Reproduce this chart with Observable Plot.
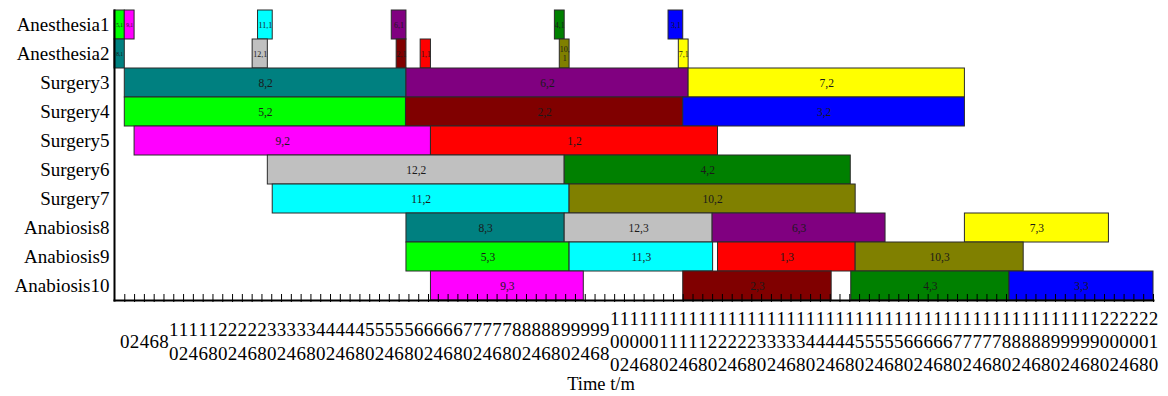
<!DOCTYPE html>
<html>
<head>
<meta charset="utf-8">
<script src="https://cdn.jsdelivr.net/npm/d3@7"></script>
<script src="https://cdn.jsdelivr.net/npm/@observablehq/plot@0.6"></script>
<style>
  html, body { margin: 0; padding: 0; background: #fff; }
</style>
</head>
<body>
<div id="chart"></div>
<script>
// Machines (rows, top to bottom)
const machines = ["Anesthesia1", "Anesthesia2", "Surgery3", "Surgery4", "Surgery5",
                  "Surgery6", "Surgery7", "Anabiosis8", "Anabiosis9", "Anabiosis10"];

// Operations: job, stage, machine index, start, end (time in minutes)
const opJob     = [5, 9, 11, 6, 4, 3,   8, 12, 2, 1, 10, 7,   8, 6, 7,   5, 2, 3,   9, 1,   12, 4,   11, 10,   8, 12, 6, 7,   5, 11, 1, 10,   9, 2, 4, 3];
const opStage   = [1, 1, 1, 1, 1, 1,   1, 1, 1, 1, 1, 1,   2, 2, 2,   2, 2, 2,   2, 2,   2, 2,   2, 2,   3, 3, 3, 3,   3, 3, 3, 3,   3, 3, 3, 3];
const opMachine = [0, 0, 0, 0, 0, 0,   1, 1, 1, 1, 1, 1,   2, 2, 2,   3, 3, 3,   4, 4,   5, 5,   6, 6,   7, 7, 7, 7,   8, 8, 8, 8,   9, 9, 9, 9];
const opStart   = [-2.1, 0, 27.2, 54.5, 87.8, 111,   -2.1, 26.1, 55.5, 60.4, 88.8, 113.1,
                   0, 57.5, 115.1,   0, 57.4, 114,   2, 62.5,   29.2, 89.8,   30.2, 90.8,
                   57.5, 89.8, 120, 171.5,   57.5, 90.8, 121.1, 149.2,   62.5, 114, 148.3, 180.6];
const opEnd     = [0, 2, 30.2, 57.5, 89.8, 114,   0, 29.2, 57.5, 62.5, 90.8, 115.1,
                   57.5, 115.1, 171.5,   57.4, 114, 171.5,   62.5, 121.1,   89.8, 148.2,   90.8, 149.2,
                   89.8, 120, 155.3, 200.9,   90.8, 120.1, 149.2, 183.5,   93.7, 144.3, 180.6, 210];

// Job colours (job 1..12)
const jobColors = ["#ff0000", "#800000", "#0000ff", "#008000", "#00ff00", "#800080",
                   "#ffff00", "#008080", "#ff00ff", "#808000", "#00ffff", "#c0c0c0"];

// X tick values
const xTicks = d3.range(0, 211, 2);
const xLabel = "Time t/m";

const ops = opJob.map((j, i) => ({
  job: j,
  stage: opStage[i],
  machine: machines[opMachine[i]],
  start: opStart[i],
  end: opEnd[i],
  color: jobColors[j - 1]
}));

function labelText(d) {
  const s = `${d.job},${d.stage}`;
  if (d.stage === 1 && s.length > 3 && d.end - d.start < 2.5) return `${d.job},\n${d.stage}`;
  return s;
}
function labelSize(d) {
  if (d.stage !== 1) return 11.5;
  return d.start < 3 ? 5.5 : 8;
}

const serif = "'Liberation Serif', 'Times New Roman', serif";

const plot = Plot.plot({
  width: 1168,
  height: 396,
  marginTop: 10,
  marginBottom: 96,
  marginLeft: 114,
  marginRight: 15,
  style: { fontFamily: serif, fontSize: "19px", background: "#fff", color: "#000" },
  x: { domain: [-2.1, 210], axis: null },
  y: { domain: machines, padding: 0, axis: null },
  color: { type: "identity" },
  marks: [
    Plot.barX(ops, {
      x1: "start", x2: "end", y: "machine",
      fill: "color", stroke: "#2a2a2a", strokeWidth: 1, inset: 0
    }),
    ...[5.5, 8, 11.5].map(fs => Plot.text(ops.filter(d => labelSize(d) === fs), {
      x: d => (d.start + d.end) / 2, y: "machine",
      text: labelText, fontSize: fs, fill: "#1a1a1a", lineHeight: 1.1,
      fontFamily: serif
    })),
    Plot.axisY({ tickSize: 0, tickPadding: 5, fontSize: 19, fontFamily: serif, fill: "#000", label: null }),
    Plot.axisX({ ticks: xTicks, tickSize: 8, dy: -6, tickFormat: () => "", stroke: "#000", strokeWidth: 1, label: null }),
    Plot.axisX({
      ticks: xTicks, tickSize: 0, tickPadding: 40,
      tickFormat: d => String(d).split("").join("\n"),
      lineAnchor: "middle", lineHeight: 1.23, fontSize: 19, fontFamily: serif, fill: "#000",
      label: null
    }),
    Plot.frame({ anchor: "bottom", stroke: "#000", strokeWidth: 2 }),
    Plot.frame({ anchor: "left", stroke: "#000", strokeWidth: 2 }),
    Plot.text([xLabel], {
      frameAnchor: "bottom", dy: 84, dx: -33, text: d => d,
      fontSize: 18.5, fontFamily: serif, fill: "#000", lineAnchor: "middle"
    })
  ]
});

document.getElementById("chart").appendChild(plot);
</script>
</body>
</html>
